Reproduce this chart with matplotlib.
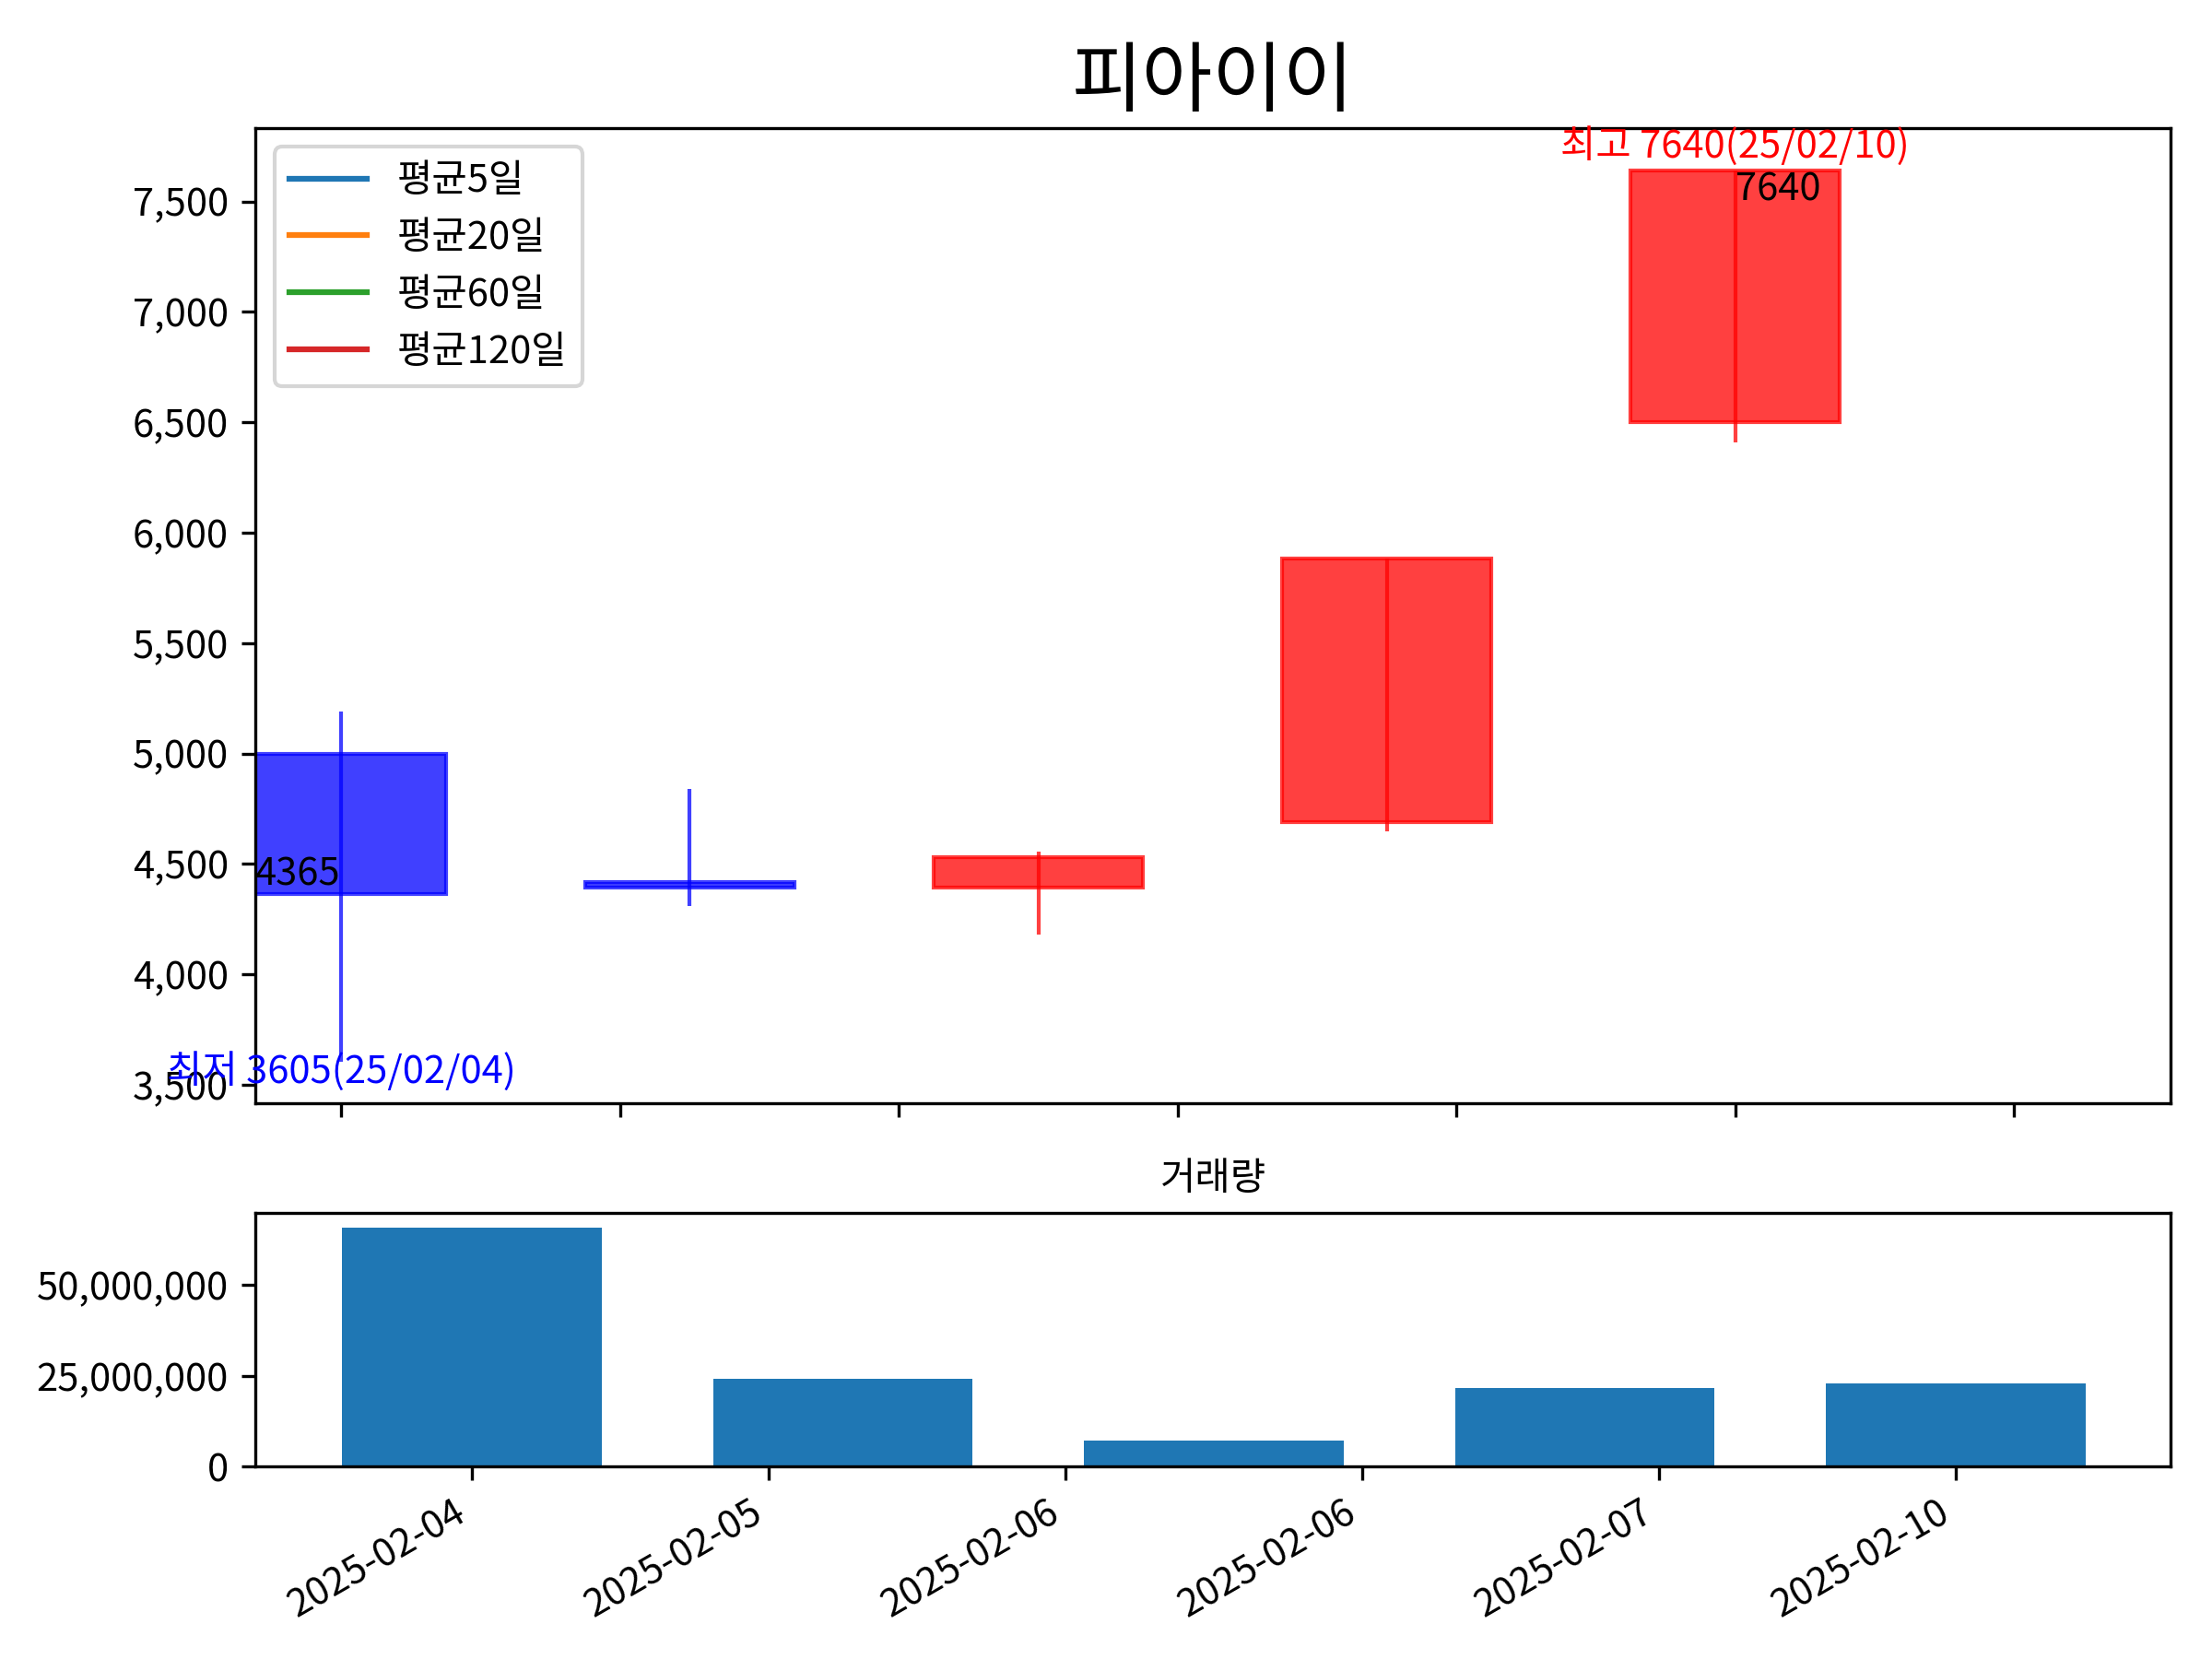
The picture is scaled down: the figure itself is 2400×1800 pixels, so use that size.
import matplotlib
matplotlib.use('Agg')
import matplotlib.pyplot as plt
import matplotlib.ticker as mticker
import numpy as np

plt.rcParams['font.family'] = ['Noto Sans CJK KR', 'DejaVu Sans']

title = '피아이이'
opens = [5000, 4420, 4395, 4690, 6500]
closes = [4365, 4395, 4530, 5885, 7640]
highs = [5190, 4840, 4555, 5885, 7640]
lows = [3605, 4310, 4180, 4650, 6410]
volumes = [66000000, 24200000, 7200000, 21600000, 23000000]
date_labels = ['2025-02-04', '2025-02-05', '2025-02-06', '2025-02-06', '2025-02-07', '2025-02-10']
ma_labels = ['평균5일', '평균20일', '평균60일', '평균120일']
ma_colors = ['#1f77b4', '#ff7f0e', '#2ca02c', '#d62728']

fig = plt.figure(figsize=(8, 6), dpi=300)
ax = fig.add_axes([0.1154, 0.335, 0.866, 0.588])
axv = fig.add_axes([0.1154, 0.116, 0.866, 0.153])

x = np.arange(len(opens))
for i in x:
    up = closes[i] >= opens[i]
    col = 'red' if up else 'blue'
    lo, hi = min(opens[i], closes[i]), max(opens[i], closes[i])
    ax.bar(i, hi - lo, 0.6, bottom=lo, color=col, alpha=0.75, edgecolor=col)
    ax.vlines(i, lows[i], highs[i], color=col, alpha=0.75, linewidth=1)

for lab, c in zip(ma_labels, ma_colors):
    ax.plot([], [], color=c, label=lab)
ax.legend(loc='upper left')

ax.text(-0.25, closes[0], str(closes[0]), fontsize=10, va='bottom')
ax.text(4, 7640, '7640', fontsize=10, va='top')
ax.text(4, 7660, '최고 7640(25/02/10)', color='red', fontsize=10, ha='center', va='bottom')
ax.text(-0.5, 3470, '최저 3605(25/02/04)', color='blue', fontsize=10, ha='left', va='bottom')

ax.set_xlim(-0.247, 5.25)
ax.set_ylim(3417, 7834)
ax.set_xticks(np.arange(0, 5.0, 0.8))
ax.set_xticklabels([])
ax.yaxis.set_major_formatter(mticker.StrMethodFormatter('{x:,.0f}'))
ax.set_title(title, fontsize=20)

axv.bar(x, volumes, 0.7, color='#1f77b4')
axv.set_xlim(-0.584, 4.58)
axv.set_ylim(0, 70000000)
axv.set_xticks(np.arange(0, 4.1, 0.8))
axv.set_xticklabels(date_labels, rotation=30, ha='right')
axv.yaxis.set_major_formatter(mticker.StrMethodFormatter('{x:,.0f}'))
axv.set_title('거래량', fontsize=10)

fig.savefig('out.png', dpi=300)
